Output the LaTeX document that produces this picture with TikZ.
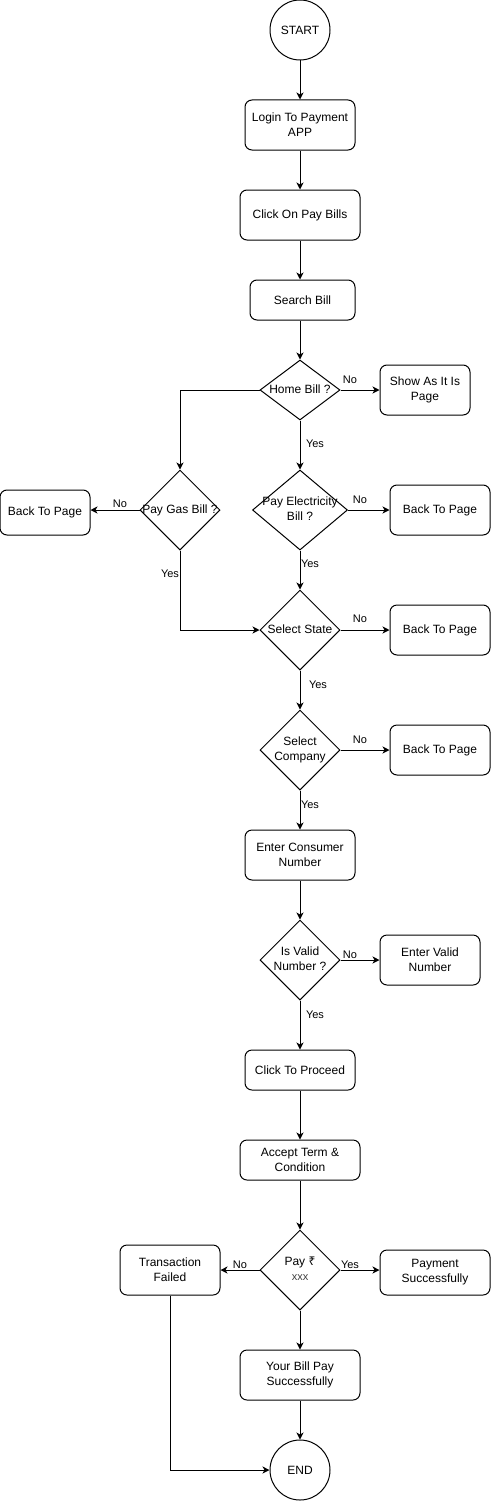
\documentclass[tikz,border=0pt]{standalone}
\usepackage{fontspec}
\setmainfont{Liberation Sans}
\newfontfamily\rupeefont{Noto Sans}
\usetikzlibrary{shapes.geometric,arrows.meta}
\newcommand{\dtext}[1]{\makebox[0pt][c]{\begin{tabular}{@{}c@{}}#1\end{tabular}}}
\begin{document}
\begin{tikzpicture}[x=1pt,y=-1pt,
  every node/.style={font=\fontsize{12}{15}\selectfont},
  proc/.style={draw,line width=1pt,rounded corners=7pt,align=center,inner sep=2pt},
  term/.style={draw,circle,line width=1pt,minimum size=60pt,inner sep=0pt},
  dec/.style={draw,diamond,line width=1pt,inner sep=0pt,minimum width=80pt,minimum height=80pt},
  elbl/.style={font=\fontsize{11}{13}\selectfont,inner sep=0pt},
  arr/.style={line width=1pt,-{Stealth[length=7pt,width=7pt,inset=2pt]}}
]
\useasboundingbox (0,0) rectangle (491,1501);

\node[term] (start) at (300,30) {START};
\node[proc,minimum width=110pt,minimum height=50pt] (login) at (300,125) {Login To Payment\\APP};
\node[proc,minimum width=120pt,minimum height=50pt] (click) at (300,215) {Click On Pay Bills};
\node[proc,minimum width=105pt,minimum height=40pt] (search) at (302.5,300) {Search Bill};
\node[dec,minimum height=60pt] (home) at (300,390) {\dtext{Home Bill ?}};
\node[proc,minimum width=90pt,minimum height=50pt] (show) at (425,390) {Show As It Is\\Page};
\node[dec] (gas) at (180,510) {\dtext{Pay Gas Bill ?}};
\node[proc,minimum width=90pt,minimum height=45pt] (back1) at (45,512.5) {Back To Page};
\node[dec,minimum width=95pt] (elec) at (300,510) {\dtext{Pay Electricity\\Bill ?}};
\node[proc,minimum width=100pt,minimum height=50pt] (back2) at (440,510) {Back To Page};
\node[dec] (state) at (300,630) {\dtext{Select State}};
\node[proc,minimum width=100pt,minimum height=50pt] (back3) at (440,630) {Back To Page};
\node[dec] (company) at (300,750) {\dtext{Select\\Company}};
\node[proc,minimum width=100pt,minimum height=50pt] (back4) at (440,750) {Back To Page};
\node[proc,minimum width=110pt,minimum height=50pt] (consumer) at (300,855) {Enter Consumer\\Number};
\node[dec] (valid) at (300,960) {\dtext{Is Valid\\Number ?}};
\node[proc,minimum width=100pt,minimum height=50pt] (entervalid) at (430,960) {Enter Valid\\Number};
\node[proc,minimum width=110pt,minimum height=40pt] (proceed) at (300,1070) {Click To Proceed};
\node[proc,minimum width=120pt,minimum height=40pt] (accept) at (300,1160) {Accept Term \&\\Condition};
\node[dec] (pay) at (300,1270) {\dtext{Pay {\rupeefont ₹}\\{\fontsize{11}{13}\selectfont\color{black!75}xxx}}};
\node[proc,minimum width=100pt,minimum height=50pt] (failed) at (170,1270) {Transaction\\Failed};
\node[proc,minimum width=110pt,minimum height=45pt] (paysucc) at (435,1272.5) {Payment\\Successfully};
\node[proc,minimum width=120pt,minimum height=50pt] (billpay) at (300,1375) {Your Bill Pay\\Successfully};
\node[term] (end) at (300,1470) {END};

\draw[arr] (start) -- (login);
\draw[arr] (login) -- (click);
\draw[arr] (click.south) -- (click.south |- search.north);
\draw[arr] (search.south -| home.north) -- (home.north);
\draw[arr] (home.east) -- (home.east -| show.west);
\draw[arr] (home.south) -- (elec.north);
\draw[arr] (home.west) -| (gas.north);
\draw[arr] (gas.west) -- (gas.west -| back1.east);
\draw[arr] (gas.south) |- (state.west);
\draw[arr] (elec.east) -- (elec.east -| back2.west);
\draw[arr] (elec.south) -- (state.north);
\draw[arr] (state.east) -- (state.east -| back3.west);
\draw[arr] (state.south) -- (company.north);
\draw[arr] (company.east) -- (company.east -| back4.west);
\draw[arr] (company.south) -- (consumer.north);
\draw[arr] (consumer.south) -- (valid.north);
\draw[arr] (valid.east) -- (valid.east -| entervalid.west);
\draw[arr] (valid.south) -- (proceed.north);
\draw[arr] (proceed.south) -- (accept.north);
\draw[arr] (accept.south) -- (pay.north);
\draw[arr] (pay.west) -- (pay.west -| failed.east);
\draw[arr] (pay.east) -- (pay.east -| paysucc.west);
\draw[arr] (pay.south) -- (billpay.north);
\draw[arr] (billpay.south) -- (end.north);
\draw[arr] (failed.south) |- (end.west);

\node[elbl] (l1) at (350,380) {No};
\node[elbl] (l2) at (315,444) {Yes};
\node[elbl] (l3) at (120,504) {No};
\node[elbl] (l4) at (170,574) {Yes};
\node[elbl] (l5) at (360,500) {No};
\node[elbl] (l6) at (310,564) {Yes};
\node[elbl] (l7) at (360,619) {No};
\node[elbl] (l8) at (318,685) {Yes};
\node[elbl] (l9) at (360,740) {No};
\node[elbl] (l10) at (310,805) {Yes};
\node[elbl] (l11) at (350,955) {No};
\node[elbl] (l12) at (315,1015) {Yes};
\node[elbl] (l13) at (240,1265) {No};
\node[elbl] (l14) at (350,1265) {Yes};
\end{tikzpicture}
\end{document}
